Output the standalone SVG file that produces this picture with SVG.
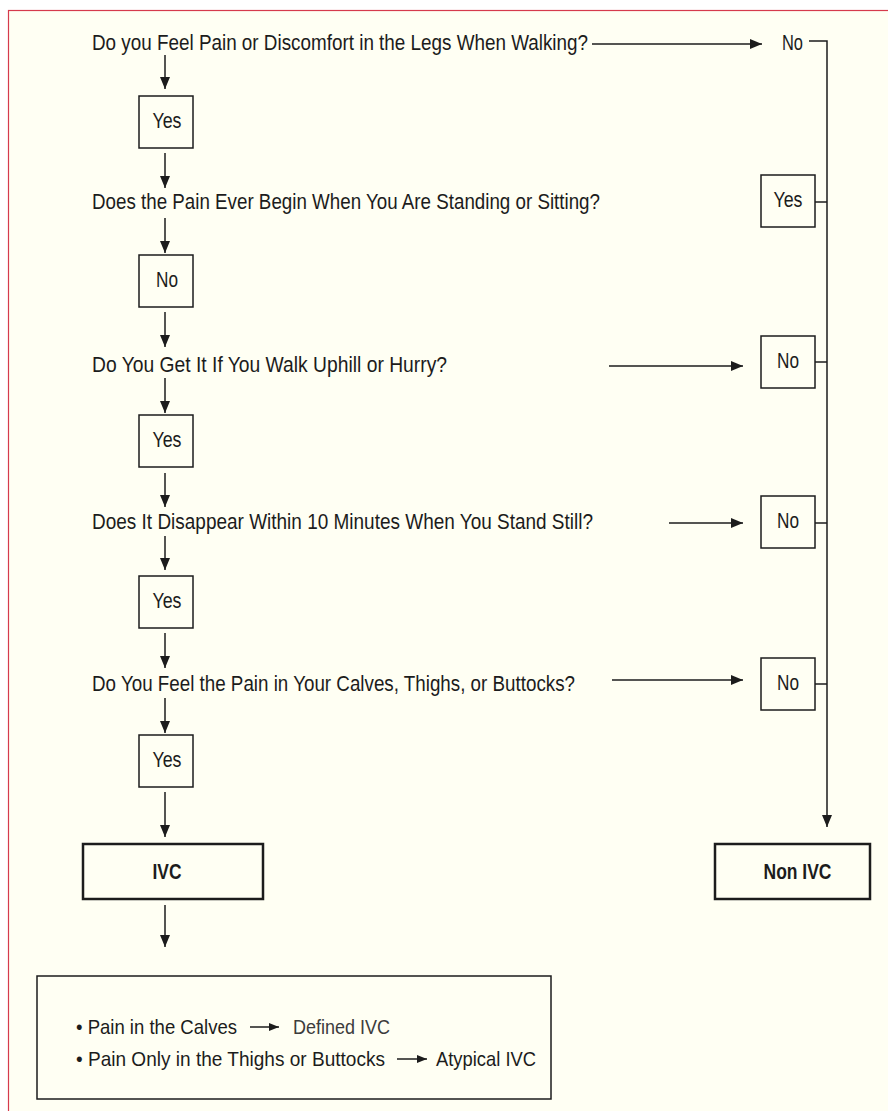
<svg xmlns="http://www.w3.org/2000/svg" width="888" height="1111" viewBox="0 0 888 1111">
<defs>
<style>
.t{font-family:"Liberation Sans",Arial,sans-serif;font-size:22px;fill:#1c1c1c}
.b{font-family:"Liberation Sans",Arial,sans-serif;font-size:22px;font-weight:bold;fill:#1c1c1c}
.s{font-family:"Liberation Sans",Arial,sans-serif;font-size:21px;fill:#1c1c1c}
.box{fill:none;stroke:#1c1c1c;stroke-width:1.5}
.bbox{fill:none;stroke:#1c1c1c;stroke-width:2.5}
.ln{fill:none;stroke:#1c1c1c;stroke-width:1.5}
.ar{fill:none;stroke:#1c1c1c;stroke-width:1.5;marker-end:url(#ah)}
.sa{fill:none;stroke:#1c1c1c;stroke-width:1.5;marker-end:url(#sh)}
</style>
<marker id="ah" markerUnits="userSpaceOnUse" markerWidth="13" markerHeight="10" refX="12" refY="5" orient="auto">
<path d="M0,0 L12,5 L0,10 z" fill="#1c1c1c"/>
</marker>
<marker id="sh" markerUnits="userSpaceOnUse" markerWidth="11" markerHeight="8" refX="10" refY="4" orient="auto">
<path d="M0,0 L10,4 L0,8 z" fill="#1c1c1c"/>
</marker>
</defs>
<rect x="0" y="0" width="888" height="1111" fill="#ffffff"/>
<rect x="8.5" y="10.5" width="890" height="1110" fill="#fffff3" stroke="#d63a4c" stroke-width="1.2"/>

<g id="q1"><text class="t" x="92" y="50" textLength="496" lengthAdjust="spacingAndGlyphs">Do you Feel Pain or Discomfort in the Legs When Walking?</text></g>
<g id="q2"><text class="t" x="92" y="209" textLength="508" lengthAdjust="spacingAndGlyphs">Does the Pain Ever Begin When You Are Standing or Sitting?</text></g>
<g id="q3"><text class="t" x="92" y="372" textLength="355" lengthAdjust="spacingAndGlyphs">Do You Get It If You Walk Uphill or Hurry?</text></g>
<g id="q4"><text class="t" x="92" y="529" textLength="501" lengthAdjust="spacingAndGlyphs">Does It Disappear Within 10 Minutes When You Stand Still?</text></g>
<g id="q5"><text class="t" x="92" y="691" textLength="483" lengthAdjust="spacingAndGlyphs">Do You Feel the Pain in Your Calves, Thighs, or Buttocks?</text></g>

<g id="no-top"><text class="t" x="782" y="50" textLength="21" lengthAdjust="spacingAndGlyphs">No</text></g>

<g id="yes1"><rect class="box" x="139" y="96" width="54" height="52"/><text class="t" x="167" y="128" text-anchor="middle" textLength="29" lengthAdjust="spacingAndGlyphs">Yes</text></g>
<g id="no1"><rect class="box" x="139" y="255" width="54" height="52"/><text class="t" x="167" y="287" text-anchor="middle" textLength="22" lengthAdjust="spacingAndGlyphs">No</text></g>
<g id="yes2"><rect class="box" x="139" y="415" width="54" height="52"/><text class="t" x="167" y="447" text-anchor="middle" textLength="29" lengthAdjust="spacingAndGlyphs">Yes</text></g>
<g id="yes3"><rect class="box" x="139" y="576" width="54" height="52"/><text class="t" x="167" y="608" text-anchor="middle" textLength="29" lengthAdjust="spacingAndGlyphs">Yes</text></g>
<g id="yes4"><rect class="box" x="139" y="735" width="54" height="52"/><text class="t" x="167" y="767" text-anchor="middle" textLength="29" lengthAdjust="spacingAndGlyphs">Yes</text></g>

<g id="ryes1"><rect class="box" x="761" y="175" width="54" height="52"/><text class="t" x="788" y="207" text-anchor="middle" textLength="29" lengthAdjust="spacingAndGlyphs">Yes</text></g>
<g id="rno1"><rect class="box" x="761" y="336" width="54" height="52"/><text class="t" x="788" y="368" text-anchor="middle" textLength="22" lengthAdjust="spacingAndGlyphs">No</text></g>
<g id="rno2"><rect class="box" x="761" y="496" width="54" height="52"/><text class="t" x="788" y="528" text-anchor="middle" textLength="22" lengthAdjust="spacingAndGlyphs">No</text></g>
<g id="rno3"><rect class="box" x="761" y="658" width="54" height="52"/><text class="t" x="788" y="690" text-anchor="middle" textLength="22" lengthAdjust="spacingAndGlyphs">No</text></g>

<g id="ivc"><rect class="bbox" x="83" y="844" width="180" height="55"/><text class="b" x="167" y="879" text-anchor="middle" textLength="29" lengthAdjust="spacingAndGlyphs">IVC</text></g>
<g id="nonivc"><rect class="bbox" x="715" y="844" width="155" height="55"/><text class="b" x="797.5" y="879" text-anchor="middle" textLength="68" lengthAdjust="spacingAndGlyphs">Non IVC</text></g>

<g id="result">
<rect class="box" x="37" y="976" width="514" height="123"/>
<text class="s" x="76" y="1034" textLength="161" lengthAdjust="spacingAndGlyphs">• Pain in the Calves</text>
<text class="s" x="293" y="1034" textLength="97" lengthAdjust="spacingAndGlyphs" style="fill:#3c3c3c">Defined IVC</text>
<text class="s" x="76" y="1066" textLength="309" lengthAdjust="spacingAndGlyphs">• Pain Only in the Thighs or Buttocks</text>
<text class="s" x="436" y="1066" textLength="100" lengthAdjust="spacingAndGlyphs">Atypical IVC</text>
<path class="sa" d="M250,1027 H279"/>
<path class="sa" d="M397,1059 H427"/>
</g>

<g id="connectors">
<path class="ar" d="M165,55 V89"/>
<path class="ar" d="M165,153 V188"/>
<path class="ar" d="M165,218 V253"/>
<path class="ar" d="M165,312 V347"/>
<path class="ar" d="M165,378 V413"/>
<path class="ar" d="M165,473 V507"/>
<path class="ar" d="M165,536 V570"/>
<path class="ar" d="M165,633 V668"/>
<path class="ar" d="M165,698 V733"/>
<path class="ar" d="M165,792 V837"/>
<path class="ar" d="M165,905 V947"/>
<path class="ar" d="M592,44 H762"/>
<path class="ar" d="M609,366 H743"/>
<path class="ar" d="M669,523 H743"/>
<path class="ar" d="M612,680 H743"/>
<path class="ar" d="M809,41 H827 V827"/>
<path class="ln" d="M815,202 H827"/>
<path class="ln" d="M815,362 H827"/>
<path class="ln" d="M815,523 H827"/>
<path class="ln" d="M815,684 H827"/>
</g>
</svg>
